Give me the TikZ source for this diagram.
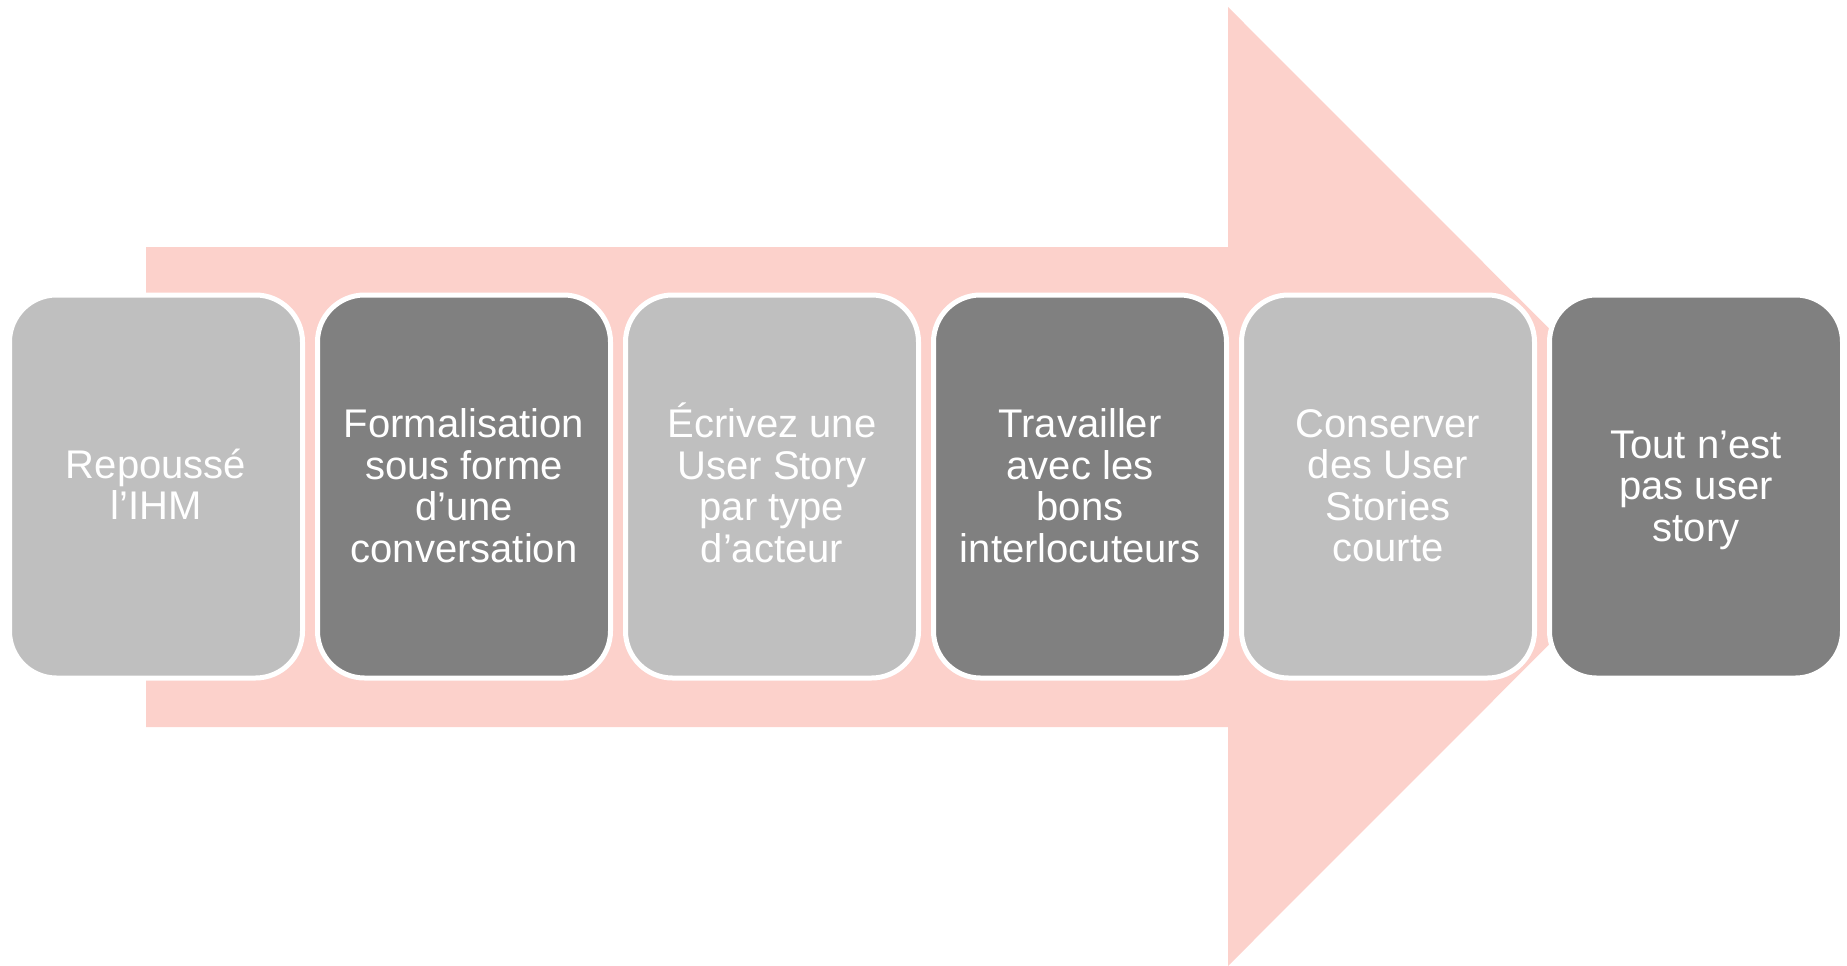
\documentclass[tikz,border=0pt]{standalone}
\usepackage{fontspec}
\setmainfont{Liberation Sans}
\definecolor{arrowpink}{HTML}{FCD1CB}
\definecolor{lightbox}{HTML}{BFBFBF}
\definecolor{darkbox}{HTML}{808080}
\begin{document}
\begin{tikzpicture}[x=1pt,y=-1pt,
  stepbox/.style={rectangle, rounded corners=47pt, draw=white, line width=5pt,
    minimum width=293pt, minimum height=383pt, inner sep=0pt,
    text=white, align=center, font=\fontsize{40}{41.5}\selectfont},
  lightstep/.style={stepbox, fill=lightbox},
  darkstep/.style={stepbox, fill=darkbox},
  steplabel/.style={text=white, align=center, font=\fontsize{40}{41.5}\selectfont, inner sep=0pt}]
\useasboundingbox (0,0) rectangle (1847,966);
\fill[arrowpink] (146,247) -- (1228,247) -- (1228,7) -- (1707,486.5) -- (1228,966) -- (1228,727) -- (146,727) -- cycle;
\node[lightstep] (b1) at (156,486.5) {};
\node[darkstep]  (b2) at (464,486.5) {};
\node[lightstep] (b3) at (772,486.5) {};
\node[darkstep]  (b4) at (1080,486.5) {};
\node[lightstep] (b5) at (1388,486.5) {};
\node[darkstep]  (b6) at (1696,486.5) {};
\node[steplabel] (t1) at ([yshift=2.4pt]b1.center) {Repoussé\\l’IHM};
\node[steplabel] (t2) at ([yshift=1pt]b2.center) {Formalisation\\sous forme\\d’une\\conversation};
\node[steplabel] (t3) at ([yshift=3.5pt]b3.center) {Écrivez une\\User Story\\par type\\d’acteur};
\node[steplabel] (t4) at ([yshift=1pt]b4.center) {Travailler\\avec les\\bons\\interlocuteurs};
\node[steplabel] (t5) at ([yshift=1pt]b5.center) {Conserver\\des User\\Stories\\courte};
\node[steplabel] (t6) at ([yshift=-3.5pt]b6.center) {Tout n’est\\pas user\\story};
\end{tikzpicture}
\end{document}
